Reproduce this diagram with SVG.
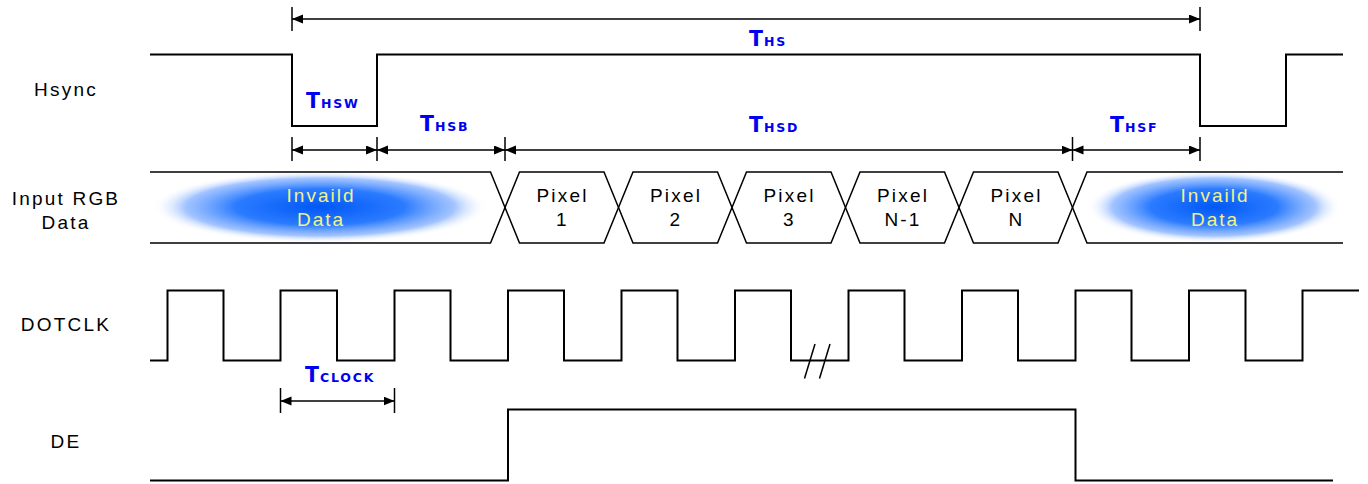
<svg xmlns="http://www.w3.org/2000/svg" width="1368" height="484" viewBox="0 0 1368 484">
<style>
.wave{fill:none;stroke:#000;stroke-width:2}
.bus{fill:none;stroke:#000;stroke-width:1.5}
.tick{stroke:#000;stroke-width:1.5}
.dim{stroke:#000;stroke-width:1.5;marker-start:url(#ah);marker-end:url(#ah)}
.lbl{font-family:"Liberation Sans",Arial,sans-serif;font-size:19px;letter-spacing:2.2px;fill:#000;text-anchor:middle}
.inv{font-family:"Liberation Sans",Arial,sans-serif;font-size:19px;letter-spacing:2px;fill:#f2f28a;text-anchor:middle}
.tm{font-family:"DejaVu Sans",sans-serif;font-weight:bold;fill:#0000f0}
</style>
<defs>
<marker id="ah" markerUnits="userSpaceOnUse" markerWidth="12" markerHeight="10" refX="11" refY="4.5" orient="auto-start-reverse">
<path d="M0,0 L11,4.5 L0,9 Z" fill="#000"/>
</marker>
<radialGradient id="glow" cx="0.5" cy="0.5" r="0.5">
<stop offset="0" stop-color="#0058f5" stop-opacity="1"/>
<stop offset="0.5" stop-color="#1f74ff" stop-opacity="0.95"/>
<stop offset="0.8" stop-color="#7aaaff" stop-opacity="0.7"/>
<stop offset="1" stop-color="#ffffff" stop-opacity="0"/>
</radialGradient>
</defs>
<rect width="1368" height="484" fill="#fff"/>

<g id="labels">
<text class="lbl" x="66" y="96">Hsync</text>
<text class="lbl" x="66" y="205">Input RGB</text>
<text class="lbl" x="66" y="229">Data</text>
<text class="lbl" x="66" y="331">DOTCLK</text>
<text class="lbl" x="66" y="448">DE</text>
</g>

<g id="hsync">
<polyline class="wave" points="150,54.5 292,54.5 292,126 377,126 377,54.5 1200,54.5 1200,126 1286,126 1286,54.5 1343,54.5"/>
</g>

<g id="rgb-data">
<g id="invalid-left">
<ellipse cx="320" cy="207" rx="168" ry="36" fill="url(#glow)"/>
<path class="bus" d="M150,172 H490.5 L505,207.5 L490.5,243 H150"/>
<text class="inv" x="321" y="202">Invaild</text>
<text class="inv" x="321" y="226">Data</text>
</g>
<g id="pixel-1">
<path class="bus" d="M505,207.5 L519.5,172 H604 L618.5,207.5 L604,243 H519.5 Z"/>
<text class="lbl" x="562.5" y="202">Pixel</text>
<text class="lbl" x="562.5" y="225.5">1</text>
</g>
<g id="pixel-2">
<path class="bus" d="M618.5,207.5 L633,172 H717.5 L732,207.5 L717.5,243 H633 Z"/>
<text class="lbl" x="676" y="202">Pixel</text>
<text class="lbl" x="676" y="225.5">2</text>
</g>
<g id="pixel-3">
<path class="bus" d="M732,207.5 L746.5,172 H831 L845.5,207.5 L831,243 H746.5 Z"/>
<text class="lbl" x="789.5" y="202">Pixel</text>
<text class="lbl" x="789.5" y="225.5">3</text>
</g>
<g id="pixel-n-1">
<path class="bus" d="M845.5,207.5 L860,172 H944.5 L959,207.5 L944.5,243 H860 Z"/>
<text class="lbl" x="903" y="202">Pixel</text>
<text class="lbl" x="903" y="225.5">N-1</text>
</g>
<g id="pixel-n">
<path class="bus" d="M959,207.5 L973.5,172 H1058 L1072.5,207.5 L1058,243 H973.5 Z"/>
<text class="lbl" x="1016.5" y="202">Pixel</text>
<text class="lbl" x="1016.5" y="225.5">N</text>
</g>
<g id="invalid-right">
<ellipse cx="1214" cy="207" rx="127" ry="36" fill="url(#glow)"/>
<path class="bus" d="M1343,172 H1087 L1072.5,207.5 L1087,243 H1343"/>
<text class="inv" x="1215" y="202">Invaild</text>
<text class="inv" x="1215" y="226">Data</text>
</g>
</g>

<g id="dotclk">
<polyline class="wave" points="150,360.5 167.5,360.5 167.5,290.5 223.5,290.5 223.5,360.5 280.5,360.5 280.5,290.5 337,290.5 337,360.5 394.5,360.5 394.5,290.5 450.5,290.5 450.5,360.5 508,360.5 508,290.5 564,290.5 564,360.5 621.5,360.5 621.5,290.5 677.5,290.5 677.5,360.5 735,360.5 735,290.5 791,290.5 791,360.5 848.5,360.5 848.5,290.5 904.5,290.5 904.5,360.5 962,360.5 962,290.5 1018,290.5 1018,360.5 1075.5,360.5 1075.5,290.5 1131.5,290.5 1131.5,360.5 1189,360.5 1189,290.5 1245.5,290.5 1245.5,360.5 1302.5,360.5 1302.5,290.5 1359,290.5"/>
<line class="tick" x1="815" y1="344" x2="804.5" y2="378.5"/>
<line class="tick" x1="830" y1="344" x2="819.5" y2="378.5"/>
</g>

<g id="de">
<polyline class="wave" points="150,480.5 508,480.5 508,409.5 1075.5,409.5 1075.5,480.5 1333,480.5"/>
</g>

<g id="connectors">
<line class="tick" x1="292" y1="7" x2="292" y2="31"/>
<line class="tick" x1="1200" y1="7" x2="1200" y2="31"/>
<line class="dim" x1="292" y1="19" x2="1200" y2="19"/>

<line class="tick" x1="292" y1="137" x2="292" y2="161"/>
<line class="tick" x1="377" y1="137" x2="377" y2="161"/>
<line class="tick" x1="505" y1="137" x2="505" y2="161"/>
<line class="tick" x1="1072.5" y1="137" x2="1072.5" y2="161"/>
<line class="tick" x1="1200" y1="137" x2="1200" y2="161"/>
<line class="dim" x1="292" y1="150" x2="377" y2="150"/>
<line class="dim" x1="377" y1="150" x2="505" y2="150"/>
<line class="dim" x1="505" y1="150" x2="1072.5" y2="150"/>
<line class="dim" x1="1072.5" y1="150" x2="1200" y2="150"/>

<line class="tick" x1="280.5" y1="388" x2="280.5" y2="413"/>
<line class="tick" x1="394.5" y1="388" x2="394.5" y2="413"/>
<line class="dim" x1="280.5" y1="401" x2="394.5" y2="401"/>
</g>

<g id="timing-labels">
<text class="tm" x="749" y="46"><tspan font-size="20.5">T</tspan><tspan font-size="12.5" letter-spacing="1.8" dx="1">HS</tspan></text>
<text class="tm" x="306" y="108"><tspan font-size="20.5">T</tspan><tspan font-size="12.5" letter-spacing="1.8" dx="1">HSW</tspan></text>
<text class="tm" x="420" y="131"><tspan font-size="20.5">T</tspan><tspan font-size="12.5" letter-spacing="1.8" dx="1">HSB</tspan></text>
<text class="tm" x="749" y="132"><tspan font-size="20.5">T</tspan><tspan font-size="12.5" letter-spacing="1.8" dx="1">HSD</tspan></text>
<text class="tm" x="1110" y="132"><tspan font-size="20.5">T</tspan><tspan font-size="12.5" letter-spacing="1.8" dx="1">HSF</tspan></text>
<text class="tm" x="305" y="382"><tspan font-size="20.5">T</tspan><tspan font-size="12.5" letter-spacing="1.8" dx="1">CLOCK</tspan></text>
</g>
</svg>
